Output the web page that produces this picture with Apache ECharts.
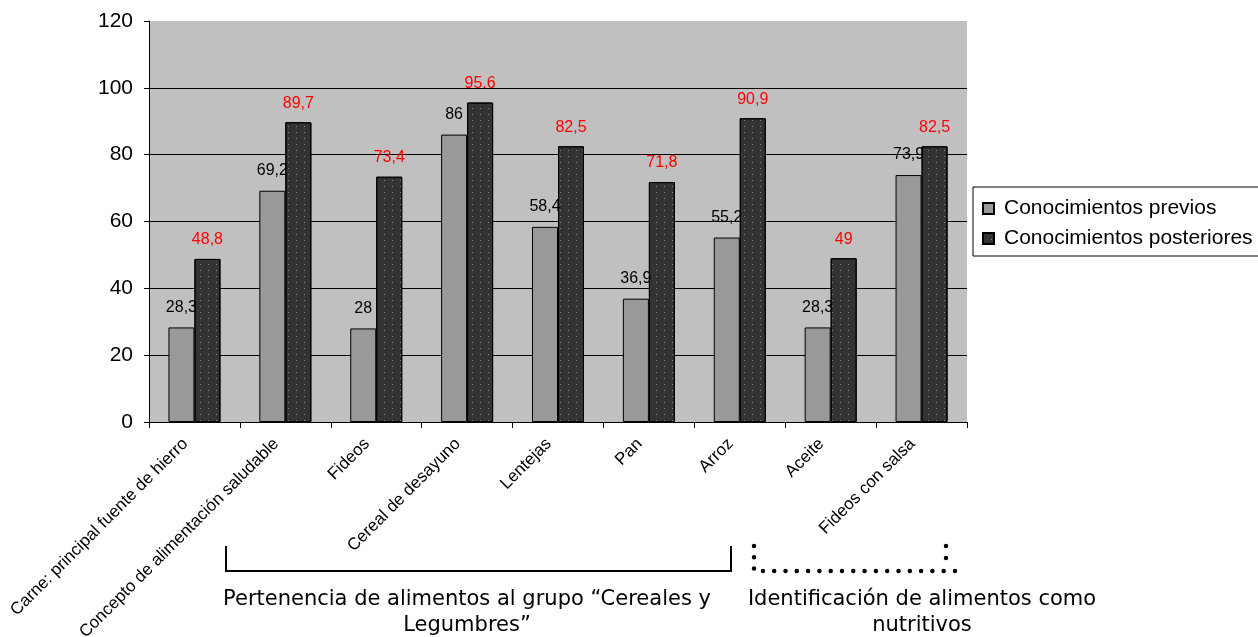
<!DOCTYPE html>
<html>
<head>
<meta charset="utf-8">
<script src="https://cdn.jsdelivr.net/npm/echarts@6/dist/echarts.min.js"></script>
<style>
  html, body { margin: 0; padding: 0; background: #fff; }
  #chart { width: 1258px; height: 637px; }
</style>
</head>
<body>
<div id="chart"></div>
<script>
// categorias del eje x
const categories = [
  "Carne: principal fuente de hierro",
  "Concepto de alimentación saludable",
  "Fideos",
  "Cereal de desayuno",
  "Lentejas",
  "Pan",
  "Arroz",
  "Aceite",
  "Fideos con salsa"
];
const previos = [28.3, 69.2, 28, 86, 58.4, 36.9, 55.2, 28.3, 73.9];
const posteriores = [48.8, 89.7, 73.4, 95.6, 82.5, 71.8, 90.9, 49, 82.5];
// etiquetas tal como aparecen en el grafico
const previosLabels = ["28,3", "69,2", "28", "86", "58,4", "36,9", "55,2", "28,3", "73,9"];
const posterioresLabels = ["48,8", "89,7", "73,4", "95.6", "82,5", "71,8", "90,9", "49", "82,5"];
const yTicks = { min: 0, max: 120, interval: 20 };

const chart = echarts.init(document.getElementById("chart"));

const fontMain = "'Liberation Sans', Arial, sans-serif";
const fontNote = "'DejaVu Sans', Verdana, sans-serif";

chart.setOption({
  animation: false,
  textStyle: { fontFamily: fontMain },
  grid: {
    left: 149, top: 21, right: 291, bottom: 215,
    containLabel: false,
    outerBoundsMode: "none",
    show: true, backgroundColor: "#c0c0c0", borderWidth: 0
  },
  legend: {
    left: 973, top: 187,
    orient: "vertical",
    backgroundColor: "#fff",
    borderColor: "#000", borderWidth: 1,
    padding: [11, 30, 7, 9],
    itemGap: 9,
    itemWidth: 11, itemHeight: 11,
    icon: "rect",
    textStyle: { fontSize: 21, color: "#000", fontFamily: fontMain, padding: [0, 0, 0, 5] },
    data: ["Conocimientos previos", "Conocimientos posteriores"]
  },
  xAxis: {
    type: "category",
    data: categories,
    axisLine: { lineStyle: { color: "#000", width: 1 } },
    axisTick: { show: true, alignWithLabel: false, length: 6, lineStyle: { color: "#000" } },
    axisLabel: { rotate: 45, fontSize: 17, color: "#000", margin: 10, padding: [0, 13, 0, 0], interval: 0 }
  },
  yAxis: {
    type: "value",
    min: yTicks.min, max: yTicks.max, interval: yTicks.interval,
    axisLine: { show: true, lineStyle: { color: "#000" } },
    axisTick: { show: true, length: 5, lineStyle: { color: "#000" } },
    axisLabel: { fontSize: 21, color: "#000", margin: 16 },
    splitLine: {
      lineStyle: { color: ["#000", "#000", "#000", "#000", "#000", "#000", "#c0c0c0"], width: 1 }
    }
  },
  series: [
    {
      name: "Conocimientos previos",
      type: "bar",
      data: previos,
      barWidth: 26,
      barGap: "0%",
      itemStyle: { color: "#999999", borderColor: "#000", borderWidth: 1 },
      label: {
        show: true, position: "top", distance: 12,
        fontSize: 16, color: "#000",
        formatter: p => previosLabels[p.dataIndex]
      }
    },
    {
      name: "Conocimientos posteriores",
      type: "bar",
      data: posteriores,
      barWidth: 26,
      barGap: "0%",
      itemStyle: {
        color: "#333333", borderColor: "#000", borderWidth: 1,
        decal: {
          symbol: "rect",
          symbolSize: 1,
          color: "#8a8a8a",
          dashArrayX: [1, 7],
          dashArrayY: [1, 5],
          rotation: 0
        }
      },
      label: {
        show: true, position: "top", distance: 11,
        fontSize: 16, color: "#ff0000",
        formatter: p => posterioresLabels[p.dataIndex]
      }
    }
  ],
  graphic: [
    // llave solida
    {
      type: "polyline",
      shape: { points: [[226, 546], [226, 571], [731, 571], [731, 546]] },
      style: { stroke: "#000", lineWidth: 2, fill: null }
    },
    // llave punteada
    {
      type: "polyline",
      shape: { points: [[754, 546], [754, 571], [958, 571]] },
      style: { stroke: "#000", lineWidth: 4.5, fill: null, lineDash: [0, 11.3], lineCap: "round" }
    },
    {
      type: "polyline",
      shape: { points: [[946, 546], [946, 560]] },
      style: { stroke: "#000", lineWidth: 4.5, fill: null, lineDash: [0, 12], lineCap: "round" }
    },
    {
      type: "text",
      x: 467, y: 587,
      style: {
        text: "Pertenencia de alimentos al grupo “Cereales y\nLegumbres”",
        font: "21px " + fontNote, fill: "#000", align: "center", lineHeight: 26
      }
    },
    {
      type: "text",
      x: 922, y: 587,
      style: {
        text: "Identificación de alimentos como\nnutritivos",
        font: "21px " + fontNote, fill: "#000", align: "center", lineHeight: 26
      }
    }
  ]
});
</script>
</body>
</html>
